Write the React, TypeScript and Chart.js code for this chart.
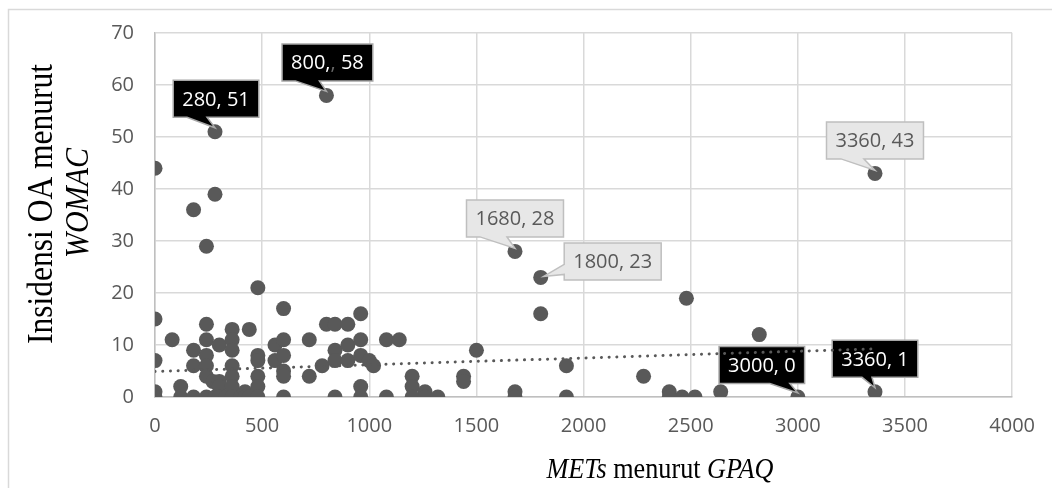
import React, { useEffect, useRef } from "react";
import { Chart, registerables } from "chart.js";

Chart.register(...registerables);

// METs (GPAQ) values
const X_VALUES: number[] = [
  0, 0, 0, 0, 0, 80, 120, 120, 180, 180, 180, 180,
  240, 240, 240, 240, 240, 240, 240, 270, 280, 280, 280,
  300, 300, 300, 300, 330, 360, 360, 360, 360, 360, 360, 360,
  400, 420, 420, 440, 440, 480, 480, 480, 480, 480, 480,
  560, 560, 600, 600, 600, 600, 600, 600,
  720, 720, 780, 800, 800, 840, 840, 840, 840, 900, 900, 900,
  960, 960, 960, 960, 960, 1000, 1020, 1080, 1080, 1140,
  1200, 1200, 1200, 1260, 1260, 1320, 1440, 1440, 1500,
  1680, 1680, 1680, 1800, 1800, 1920, 1920, 2280, 2400, 2400,
  2460, 2480, 2520, 2640, 2820, 3000, 3360, 3360,
];
// WOMAC OA incidence values
const Y_VALUES: number[] = [
  44, 15, 7, 1, 0, 11, 2, 0, 36, 9, 6, 0,
  29, 14, 11, 8, 6, 4, 0, 3, 51, 39, 0,
  10, 3, 2, 0, 0, 13, 11, 9, 6, 4, 2, 0,
  0, 1, 0, 13, 0, 21, 8, 7, 4, 2, 0,
  10, 7, 17, 11, 8, 5, 4, 0,
  11, 4, 6, 58, 14, 14, 9, 7, 0, 14, 10, 7,
  16, 11, 8, 2, 0, 7, 6, 11, 0, 11,
  4, 2, 0, 1, 0, 0, 4, 3, 9,
  28, 1, 0, 23, 16, 6, 0, 4, 1, 0,
  0, 19, 0, 1, 12, 0, 43, 1,
];

const X_TICKS = { min: 0, max: 4000, step: 500 };
const Y_TICKS = { min: 0, max: 70, step: 10 };

// linear trend
const TREND_X: number[] = [0, 3360];
const TREND_INTERCEPT = 4.9;
const TREND_SLOPE = 0.0013;

const X_TITLE_PARTS = [
  { t: "METs", italic: true },
  { t: " menurut ", italic: false },
  { t: "GPAQ", italic: true },
];
const Y_TITLE_LINE1 = "Insidensi OA menurut";
const Y_TITLE_LINE2 = "WOMAC";

// callouts (label styling / placement)
type Part = { t: string; c?: string };
const CALLOUTS: any[] = [
  { x: 280, y: 51, dark: true, parts: [{ t: "280, 51" }], dx: 1, dy: -33, side: "bottom", b1: -28, b2: -8, tx: 0, ty: -4 },
  { x: 800, y: 58, dark: true, parts: [{ t: "800," }, { t: ",", c: "#6a6a6a" }, { t: " 58" }], dx: 1, dy: -33, side: "bottom", b1: -31, b2: -7, tx: 0, ty: -4 },
  { x: 3000, y: 0, dark: true, parts: [{ t: "3000, 0" }], dx: -36, dy: -32, side: "bottom", b1: -28, b2: -8, tx: 0, ty: -4 },
  { x: 3360, y: 1, dark: true, parts: [{ t: "3360, 1" }], dx: 0, dy: -33, side: "bottom", b1: -13, b2: -3, tx: 0, ty: -4 },
  { x: 1680, y: 28, dark: false, parts: [{ t: "1680, 28" }], dx: 0, dy: -33, side: "bottom", b1: -35, b2: -8, tx: 0, ty: -3 },
  { x: 1800, y: 23, dark: false, parts: [{ t: "1800, 23" }], dx: 72, dy: -16, side: "left", b1: -13, b2: -3, tx: 3, ty: -1 },
  { x: 3360, y: 43, dark: false, parts: [{ t: "3360, 43" }], dx: 0, dy: -33, side: "bottom", b1: -34, b2: -11, tx: 0, ty: -3 },
];

const TICK_FONT = '"Open Sans", "Noto Sans", sans-serif';
const SERIF = '"Liberation Serif", "Times New Roman", serif';
const GREY = "#595959";

const backgroundPlugin = {
  id: "bgBorder",
  beforeDraw(chart: any) {
    const ctx = chart.ctx;
    ctx.save();
    ctx.fillStyle = "#ffffff";
    ctx.fillRect(0, 0, chart.width, chart.height);
    ctx.strokeStyle = "#d9d9d9";
    ctx.lineWidth = 1.5;
    ctx.beginPath();
    ctx.moveTo(8.5, chart.height + 2);
    ctx.lineTo(8.5, 9.5);
    ctx.lineTo(chart.width + 2, 9.5);
    ctx.stroke();
    ctx.restore();
  },
};

const calloutPlugin = {
  id: "callouts",
  afterDatasetDraw(chart: any, args: any) {
    if (args.index !== 0) return;
    const ctx = chart.ctx;
    const xs = chart.scales.x;
    const ys = chart.scales.y;
    ctx.save();
    ctx.font = `20px ${TICK_FONT}`;
    for (const c of CALLOUTS) {
      const px = xs.getPixelForValue(c.x);
      const py = ys.getPixelForValue(c.y);
      const text = c.parts.map((p: Part) => p.t).join("");
      const tw = ctx.measureText(text).width;
      const w = tw + 18;
      const h = 37;
      const cx = px + c.dx;
      const cy = py + c.dy;
      const l = cx - w / 2, r = cx + w / 2, t = cy - h / 2, b = cy + h / 2;
      ctx.beginPath();
      ctx.moveTo(l, t);
      ctx.lineTo(r, t);
      ctx.lineTo(r, b);
      if (c.side === "bottom") {
        ctx.lineTo(px + c.b2, b);
        ctx.lineTo(px + c.tx, py + c.ty);
        ctx.lineTo(px + c.b1, b);
        ctx.lineTo(l, b);
      } else {
        ctx.lineTo(l, b);
        ctx.lineTo(l, py + c.b2);
        ctx.lineTo(px + c.tx, py + c.ty);
        ctx.lineTo(l, py + c.b1);
      }
      ctx.closePath();
      ctx.fillStyle = c.dark ? "#000000" : "#e7e7e7";
      ctx.fill();
      ctx.lineWidth = 1.5;
      ctx.strokeStyle = c.dark ? "#a6a6a6" : "#bfbfbf";
      ctx.stroke();
      ctx.textBaseline = "middle";
      ctx.textAlign = "left";
      let x = cx - tw / 2;
      for (const p of c.parts as Part[]) {
        ctx.fillStyle = p.c ? p.c : c.dark ? "#ffffff" : GREY;
        ctx.fillText(p.t, x, cy + 1);
        x += ctx.measureText(p.t).width;
      }
    }
    ctx.restore();
  },
};

const titlePlugin = {
  id: "titles",
  afterDraw(chart: any) {
    const ctx = chart.ctx;
    ctx.save();
    ctx.fillStyle = "#000000";
    ctx.textBaseline = "alphabetic";
    ctx.textAlign = "left";
    // x title
    const size = 26.2;
    const fonts = X_TITLE_PARTS.map((p) => `${p.italic ? "italic " : ""}${size}px ${SERIF}`);
    let total = 0;
    const widths = X_TITLE_PARTS.map((p, i) => {
      ctx.font = fonts[i];
      const w = ctx.measureText(p.t).width;
      total += w;
      return w;
    });
    const centerX = 660;
    ctx.save();
    ctx.translate(centerX - total / 2, 478);
    ctx.scale(1, 1.14);
    let x = 0;
    X_TITLE_PARTS.forEach((p, i) => {
      ctx.font = fonts[i];
      ctx.fillText(p.t, x, 0);
      x += widths[i];
    });
    ctx.restore();
    // y title
    ctx.save();
    ctx.textAlign = "center";
    ctx.translate(52, 204);
    ctx.rotate(-Math.PI / 2);
    ctx.scale(1, 1.12);
    ctx.font = `31.5px ${SERIF}`;
    ctx.fillText(Y_TITLE_LINE1, 0, 0);
    ctx.restore();
    ctx.save();
    ctx.textAlign = "center";
    ctx.translate(88, 203);
    ctx.rotate(-Math.PI / 2);
    ctx.scale(1, 1.12);
    ctx.font = `italic 30px ${SERIF}`;
    ctx.fillText(Y_TITLE_LINE2, 0, 0);
    ctx.restore();
    ctx.restore();
  },
};

export default function App() {
  const canvasRef = useRef<HTMLCanvasElement | null>(null);

  useEffect(() => {
    const canvas = canvasRef.current;
    if (!canvas) return;
    const points = X_VALUES.map((x, i) => ({ x, y: Y_VALUES[i] }));
    const trend = TREND_X.map((x) => ({ x, y: TREND_INTERCEPT + TREND_SLOPE * x }));
    const chart = new Chart(canvas, {
      type: "scatter",
      data: {
        datasets: [
          {
            label: "Data",
            data: points,
            backgroundColor: GREY,
            borderColor: GREY,
            borderWidth: 0,
            pointRadius: 7.5,
            pointHoverRadius: 7.5,
            order: 2,
          },
          {
            type: "line",
            label: "Trend",
            data: trend,
            borderColor: GREY,
            borderWidth: 3,
            borderDash: [0.1, 7.6],
            borderCapStyle: "round",
            pointRadius: 0,
            fill: false,
            showLine: true,
            order: 1,
          } as any,
        ],
      },
      options: {
        responsive: false,
        animation: false,
        devicePixelRatio: 1,
        layout: { padding: { left: 0, right: 30, top: 28, bottom: 0 } },
        plugins: { legend: { display: false }, tooltip: { enabled: false } },
        scales: {
          x: {
            type: "linear",
            min: X_TICKS.min,
            max: X_TICKS.max,
            ticks: {
              stepSize: X_TICKS.step,
              color: GREY,
              font: { family: TICK_FONT, size: 20 },
              padding: 17,
              callback: (v: any) => String(v),
            },
            grid: { color: "#d9d9d9", lineWidth: 1.5, drawTicks: false },
            border: { color: "#bfbfbf", width: 1.5 },
            afterFit: (s: any) => {
              s.height = 91;
            },
          },
          y: {
            type: "linear",
            min: Y_TICKS.min,
            max: Y_TICKS.max,
            ticks: {
              stepSize: Y_TICKS.step,
              color: GREY,
              font: { family: TICK_FONT, size: 20 },
              padding: 21,
              callback: (v: any) => String(v),
            },
            grid: { color: "#d9d9d9", lineWidth: 1.5, drawTicks: false },
            border: { color: "#bfbfbf", width: 1.5 },
            afterFit: (s: any) => {
              s.width = 155;
            },
          },
        },
      },
      plugins: [backgroundPlugin, calloutPlugin, titlePlugin],
    });
    return () => chart.destroy();
  }, []);

  return (
    <div style={{ position: "absolute", left: 0, top: 0, width: 1052, height: 488 }}>
      <canvas ref={canvasRef} width={1052} height={488} style={{ display: "block" }} />
    </div>
  );
}
